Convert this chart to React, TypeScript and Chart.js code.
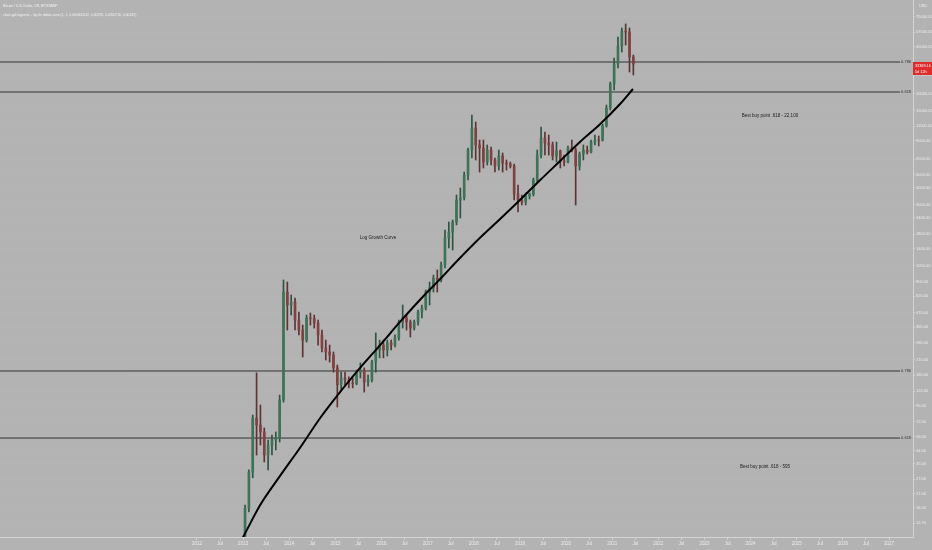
import React, { useEffect, useRef } from "react";
import { Chart, registerables } from "chart.js";
Chart.register(...registerables);

const FONT = "'Liberation Sans', Arial, sans-serif";

// Monthly candles, starting Jan 2013
const candleStartYear = 2013;
const opens = [9.5,16.4,30.5,77,68.3,60.6,40.8,48.4,52.8,54.6,105,668,
 535,563,413,348,293,428,425,392,320,256,239,227,
 182,136,153,148,140,139,169,175,143,148,201,247,
 269,247,279,269,304,399,428,399,360,399,474,508,
 668,716,849,821,1062,1688,1870,2220,3237,3352,4970,7630,
 11134,8320,7904,6211,7630,6430,5800,6886,6109,6006,5800,3589,
 3237,3127,3468,3589,4563,7005,9377,8607,8320,6886,7500,6321,
 6211,7904,7630,5800,7126,7630,7371,8752,9060,9000,11521,15685,
 23686,33372,45424,58754,57738,37606];
const highs = [17.3,31.6,81,167,96.2,64.9,52.8,57.5,60.6,114,821,793,
 635,603,474,379,450,466,450,413,348,293,269,239,
 191,169,169,156,153,175,198,182,161,208,331,293,
 293,293,293,320,413,535,450,413,413,491,535,692,
 793,894,975,1118,1936,2220,2298,3528,3979,5231,7904,13910,
 12336,9060,9060,8320,8037,6655,7630,7249,6430,6211,6006,4188,
 3528,3651,3651,4722,7630,11322,10394,9870,8752,8752,7630,7005,
 8179,9060,7904,7371,8320,8179,9060,9870,9702,11927,16510,24498,
 36984,52995,61874,66286,61874,38930];
const lows = [9.2,15.4,27.6,40.8,48.4,36.2,31.6,40.8,44.5,51,101,348,
 450,348,320,219,283,379,360,269,239,208,201,169,
 93,124,136,129,129,136,153,120,133,143,169,216,
 216,223,247,260,293,360,348,309,348,379,428,491,
 535,668,668,793,1009,1422,1373,2109,2378,3237,4563,6655,
 6430,5231,5605,5900,5900,5231,5415,5231,5415,5605,3237,2635,
 2972,2972,3295,3468,4408,6655,7005,7005,6430,6211,5605,5800,
 6109,7371,2972,5415,6430,7126,7249,8320,8179,8906,11322,15160,
 21360,31150,40968,46210,29077,27620];
const closes = [16.4,30.5,77,68.3,60.6,40.8,48.4,52.8,54.6,105,668,535,
 563,413,348,293,428,425,392,320,256,239,227,182,
 136,153,148,140,139,169,175,143,148,201,247,269,
 247,279,269,304,399,428,399,360,399,474,508,668,
 716,849,821,1062,1688,1870,2220,3237,3352,4970,7630,11134,
 8320,7904,6211,7630,6430,5800,6886,6109,6006,5800,3589,3237,
 3127,3468,3589,4563,7005,9377,8607,8320,6886,7500,6321,6211,
 7904,7630,5800,7126,7630,7371,8752,9060,9000,11521,15685,23686,
 33372,45424,58754,57738,37606,33369.16];

// Log growth curve
const curveYears = [2012.8, 2013.0, 2013.37, 2013.8, 2014.23, 2014.67, 2015.1, 2015.53, 2015.97, 2016.4, 2016.83, 2017.27, 2017.7, 2018.13, 2018.57, 2019.0, 2019.44, 2019.87, 2020.3, 2020.74, 2021.17, 2021.45];
const curveValues = [7.5, 10, 17.3, 28.5, 46, 77, 120, 181, 269, 400, 583, 835, 1197, 1687, 2337, 3237, 4563, 6318, 8756, 11925, 16805, 21735];

// Fib levels
const fibLabels = ["0.786", "0.618", "0.786", "0.618"];
const fibValues = [34515, 20634, 172.4, 54.6];
const fibEndYear = 2027.24;

// Annotations
const noteTexts = ["Best buy point .618 - 22,100", "Best buy point .618 - 595", "Log Growth Curve"];
const noteYears = [2023.81, 2023.77, 2015.53];
const noteValues = [13674, 33.2, 1688];

// Axes
const xMin = 2007.73;
const xMax = 2027.52;
const xTickValues = [2012,2012.5,2013,2013.5,2014,2014.5,2015,2015.5,2016,2016.5,2017,2017.5,2018,2018.5,2019,2019.5,2020,2020.5,2021,2021.5,2022,2022.5,2023,2023.5,2024,2024.5,2025,2025.5,2026,2026.5,2027];
const xTickLabels = ["2012","Jul","2013","Jul","2014","Jul","2015","Jul","2016","Jul","2017","Jul","2018","Jul","2019","Jul","2020","Jul","2021","Jul","2022","Jul","2023","Jul","2024","Jul","2025","Jul","2026","Jul","2027"];
const yMin = 10;
const yMax = 100000;
const yTickValues = [75000,57500,45000,27500,20000,15000,11500,9000,6500,5000,4000,3000,2400,1800,1400,1050,800,620,470,365,280,210,160,122,95,72,56,44,35,27,21,16.5,12.7];

const titleLines = [
  "Bitcoin / U.S. Dollar, 1W, BITSTAMP",
  "chart-gal.logcurve - log fw ddsd-curve (1, 1, 0.000000042, 0.40576, 0.0250716, 0.00132)",
];
const countdownText = "5d 12h";

export default function App() {
  const ref = useRef<HTMLCanvasElement>(null);
  useEffect(() => {
    const canvas = ref.current!;
    const candleX = opens.map((_, i) => candleStartYear + i / 12 + 1 / 24);
    const isUp = opens.map((o, i) => closes[i] >= o);
    const bodyColors = isUp.map((u) => (u ? "#3d7357" : "#834040"));
    const wickColors = isUp.map((u) => (u ? "#2f5443" : "#5e3333"));
    const wickData = candleX.map((x, i) => ({ x, y: [lows[i], highs[i]] }));
    const bodyData = candleX.map((x, i) => ({ x, y: [Math.min(opens[i], closes[i]), Math.max(opens[i], closes[i])] }));

    const bgPlugin = {
      id: "bg",
      beforeDraw(c: any) {
        const ctx = c.ctx;
        ctx.save();
        ctx.fillStyle = "#b3b3b3";
        ctx.fillRect(0, 0, c.width, c.height);
        ctx.restore();
      },
    };

    const overlay = {
      id: "overlay",
      afterDraw(c: any) {
        const ctx = c.ctx;
        const xs = c.scales.x;
        const ys = c.scales.y;
        ctx.save();
        ctx.fillStyle = "#f2f2f2";
        ctx.font = `3.4px ${FONT}`;
        ctx.textBaseline = "middle";
        ctx.textAlign = "left";
        ctx.fillText(titleLines[0], 3, 6);
        ctx.fillText(titleLines[1], 3, 15);
        ctx.fillStyle = "#333";
        ctx.font = `4px ${FONT}`;
        fibValues.forEach((v, i) => {
          ctx.fillText(fibLabels[i], xs.getPixelForValue(fibEndYear) + 1, ys.getPixelForValue(v));
        });
        ctx.fillStyle = "#202020";
        ctx.font = `4.5px ${FONT}`;
        noteTexts.forEach((t, i) => {
          ctx.fillText(t, xs.getPixelForValue(noteYears[i]), ys.getPixelForValue(noteValues[i]));
        });
        ctx.fillStyle = "#ececec";
        ctx.font = `3.8px ${FONT}`;
        ctx.fillText("USD", ys.left + 6, 6);
        const last = closes[closes.length - 1];
        const py = ys.getPixelForValue(last);
        ctx.fillStyle = "#e02b2b";
        ctx.fillRect(ys.left, py - 2, c.width - ys.left, 13);
        ctx.fillStyle = "#ffffff";
        ctx.font = `3.8px ${FONT}`;
        ctx.fillText(last.toFixed(2), ys.left + 2, py + 2);
        ctx.fillText(countdownText, ys.left + 2, py + 7.5);
        ctx.restore();
      },
    };

    const datasets: any[] = [
      {
        type: "line",
        data: curveYears.map((x, i) => ({ x, y: curveValues[i] })),
        borderColor: "#000000",
        borderWidth: 2,
        pointRadius: 0,
        cubicInterpolationMode: "monotone",
        tension: 0.4,
        order: 0,
        clip: 0,
      },
      {
        type: "bar",
        data: bodyData,
        backgroundColor: bodyColors,
        borderWidth: 0,
        grouped: false,
        barPercentage: 1,
        categoryPercentage: 1,
        maxBarThickness: 2,
        order: 1,
        clip: 0,
      },
      {
        type: "bar",
        data: wickData,
        backgroundColor: wickColors,
        borderWidth: 0,
        grouped: false,
        barPercentage: 1,
        categoryPercentage: 1,
        maxBarThickness: 1,
        order: 2,
        clip: 0,
      },
      ...fibValues.map((v) => ({
        type: "line",
        data: [
          { x: xMin, y: v },
          { x: fibEndYear, y: v },
        ],
        borderColor: "#333333",
        borderWidth: 1,
        pointRadius: 0,
        order: 3,
        clip: 0,
      })),
    ];

    const chart = new Chart(canvas, {
      type: "bar",
      data: { datasets },
      options: {
        responsive: false,
        animation: false,
        devicePixelRatio: 1,
        layout: { padding: 0 },
        plugins: { legend: { display: false }, tooltip: { enabled: false } },
        scales: {
          x: {
            type: "linear",
            min: xMin,
            max: xMax,
            offset: false,
            grid: { display: true, drawOnChartArea: false, offset: false, tickLength: 3, tickColor: "#d0d0d0" },
            border: { display: true, color: "#d4d4d4" },
            ticks: {
              autoSkip: false,
              maxRotation: 0,
              padding: 1,
              color: "#ececec",
              font: { size: 4.5, family: FONT },
              callback: (_v: any, i: number) => xTickLabels[i],
            },
            afterBuildTicks: (s: any) => {
              s.ticks = xTickValues.map((v) => ({ value: v }));
            },
            afterFit: (s: any) => {
              s.height = 13;
              s.paddingLeft = 0;
              s.paddingRight = 0;
            },
          },
          y: {
            type: "logarithmic",
            position: "right",
            min: yMin,
            max: yMax,
            grid: { color: "rgba(255,255,255,0.035)", tickLength: 2, tickColor: "#d0d0d0" },
            border: { display: true, color: "#d4d4d4" },
            ticks: {
              autoSkip: false,
              padding: 1,
              color: "#ececec",
              font: { size: 4, family: FONT },
              callback: (v: any) => Number(v).toFixed(2),
            },
            afterBuildTicks: (s: any) => {
              s.ticks = yTickValues.map((v) => ({ value: v }));
            },
            afterFit: (s: any) => {
              s.width = 19;
              s.paddingTop = 0;
              s.paddingBottom = 0;
            },
          },
        },
      } as any,
      plugins: [bgPlugin, overlay],
    });
    return () => chart.destroy();
  }, []);

  return (
    <div style={{ position: "fixed", left: 0, top: 0, width: 932, height: 550, background: "#b3b3b3" }}>
      <canvas ref={ref} width={932} height={550} style={{ display: "block", width: 932, height: 550 }} />
    </div>
  );
}
